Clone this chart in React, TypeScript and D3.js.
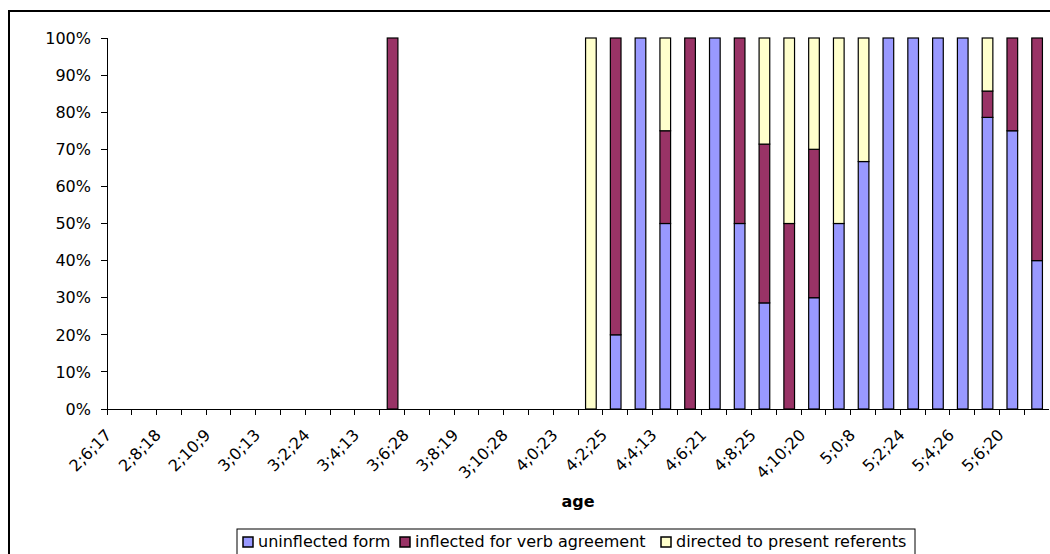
import React from "react";
import * as d3 from "d3";

const categories: string[] = [
  "2;6;17", "2;7;15", "2;8;18", "2;9;20", "2;10;9", "2;11;12", "3;0;13", "3;1;20",
  "3;2;24", "3;3;15", "3;4;13", "3;5;18", "3;6;28", "3;7;22", "3;8;19", "3;9;17",
  "3;10;28", "3;11;25", "4;0;23", "4;1;20", "4;2;25", "4;3;15", "4;4;13", "4;5;17",
  "4;6;21", "4;7;24", "4;8;25", "4;9;22", "4;10;20", "4;11;16", "5;0;8", "5;1;19",
  "5;2;24", "5;3;22", "5;4;26", "5;5;20", "5;6;20", "5;7;18",
];

const uninflected: number[] = [
  0, 0, 0, 0, 0, 0, 0, 0, 0, 0, 0, 0, 0, 0, 0, 0, 0, 0, 0,
  0, 20, 100, 50, 0, 100, 50, 28.6, 0, 30, 50, 66.7, 100, 100, 100, 100, 78.6, 75, 40,
];
const inflected: number[] = [
  0, 0, 0, 0, 0, 0, 0, 0, 0, 0, 0, 100, 0, 0, 0, 0, 0, 0, 0,
  0, 80, 0, 25, 100, 0, 50, 42.8, 50, 40, 0, 0, 0, 0, 0, 0, 7.1, 25, 60,
];
const directed: number[] = [
  0, 0, 0, 0, 0, 0, 0, 0, 0, 0, 0, 0, 0, 0, 0, 0, 0, 0, 0,
  100, 0, 0, 25, 0, 0, 0, 28.6, 50, 30, 50, 33.3, 0, 0, 0, 0, 14.3, 0, 0,
];

const seriesNames: string[] = [
  "uninflected form",
  "inflected for verb agreement",
  "directed to present referents",
];
const seriesColors: string[] = ["#9999FF", "#993366", "#FFFFCC"];
const yTicks: number[] = [0, 10, 20, 30, 40, 50, 60, 70, 80, 90, 100];

const W = 1050;
const H = 554;
const plotL = 107;
const plotR = 1049;
const plotT = 38;
const plotB = 409;
const FONT = "Verdana, 'DejaVu Sans', sans-serif";
const FS = 16;

export default function App() {
  const x = d3
    .scaleBand<string>()
    .domain(categories)
    .range([plotL, plotR])
    .paddingInner(0.57)
    .paddingOuter(0.285);
  const step = (plotR - plotL) / categories.length;
  const y = d3.scaleLinear().domain([0, 100]).range([plotB, plotT]);

  const rows = categories.map((c, i) => ({
    cat: c,
    u: uninflected[i],
    inf: inflected[i],
    d: directed[i],
  }));
  const stack = d3.stack<any>().keys(["u", "inf", "d"]);
  const stacked = stack(rows);

  const legendItems = [
    { sx: 243, tx: 258 },
    { sx: 400, tx: 415 },
    { sx: 661, tx: 676 },
  ];

  return (
    <svg
      width={W}
      height={H}
      style={{ position: "absolute", left: 0, top: 0, background: "#fff" }}
      fontFamily={FONT}
    >
      <rect x={0} y={0} width={W} height={H} fill="#fff" />
      <rect x={9} y={11} width={1100} height={600} fill="none" stroke="#000" strokeWidth={2} />

      {/* bars */}
      {stacked.map((s, si) => (
        <g key={si}>
          {s.map((seg, i) => {
            const h = y(seg[0]) - y(seg[1]);
            if (seg[1] - seg[0] <= 0) return null;
            return (
              <rect
                key={i}
                x={(x(categories[i]) as number) + 0.5}
                y={y(seg[1])}
                width={x.bandwidth()}
                height={h}
                fill={seriesColors[si]}
                stroke="#000"
                strokeWidth={1.2}
              />
            );
          })}
        </g>
      ))}

      {/* y axis */}
      <line x1={plotL} x2={plotL} y1={plotT} y2={plotB} stroke="#000" strokeWidth={1} shapeRendering="crispEdges" />
      {yTicks.map((t) => (
        <g key={t}>
          <line x1={plotL - 6} x2={plotL} y1={y(t)} y2={y(t)} stroke="#000" shapeRendering="crispEdges" />
          <text x={91} y={y(t)} dy="0.36em" textAnchor="end" fontSize={FS} fill="#000">
            {t + "%"}
          </text>
        </g>
      ))}

      {/* x axis */}
      <line x1={plotL} x2={plotR} y1={plotB} y2={plotB} stroke="#000" shapeRendering="crispEdges" />
      {categories.map((c, i) => (
        <line
          key={"t" + i}
          x1={plotL + i * step}
          x2={plotL + i * step}
          y1={plotB}
          y2={plotB + 6}
          stroke="#000"
          shapeRendering="crispEdges"
        />
      ))}
      {categories.map((c, i) =>
        i % 2 === 0 ? (
          <text
            key={"l" + i}
            transform={`translate(${(x(c) as number) + x.bandwidth() / 2 - 7},${plotB + 27}) rotate(-45)`}
            textAnchor="end"
            fontSize={FS}
            fill="#000"
          >
            {c}
          </text>
        ) : null
      )}

      <text x={578} y={507} textAnchor="middle" fontSize={FS} fontWeight="bold" fill="#000">
        age
      </text>

      {/* legend */}
      <rect x={237} y={529} width={678} height={40} fill="#fff" stroke="#000" strokeWidth={1} />
      {seriesNames.map((n, i) => (
        <g key={n}>
          <rect x={legendItems[i].sx} y={537} width={10} height={10} fill={seriesColors[i]} stroke="#000" strokeWidth={1.5} />
          <text x={legendItems[i].tx} y={547} fontSize={FS} fill="#000">
            {n}
          </text>
        </g>
      ))}
    </svg>
  );
}
